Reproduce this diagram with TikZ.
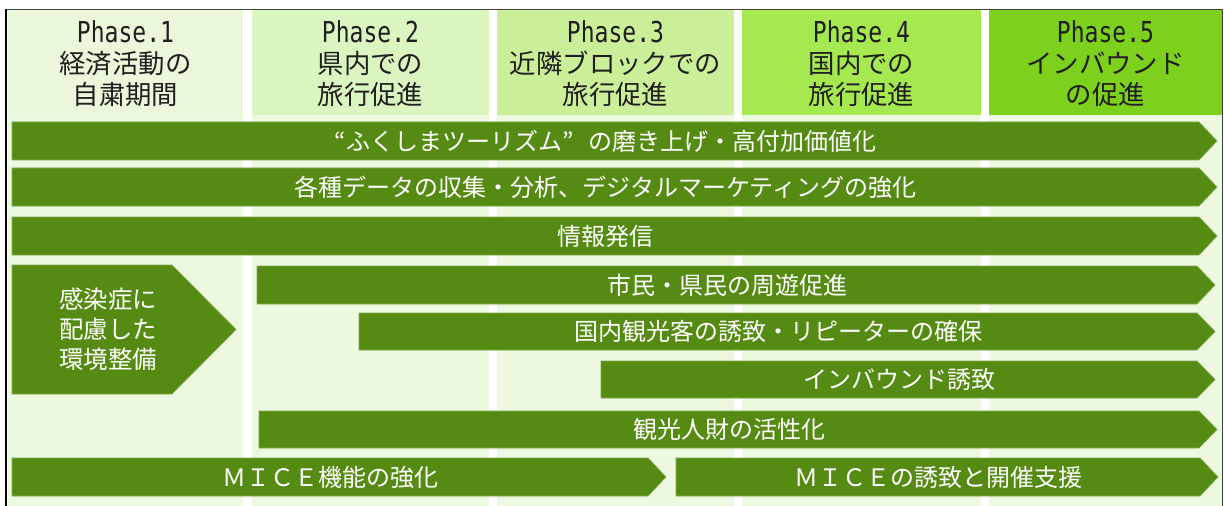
\documentclass[tikz,border=0pt]{standalone}
\usepackage{fontspec}
\setmainfont{Noto Sans CJK JP}
\newfontfamily\phasefont[FakeStretch=0.8]{DejaVu Sans Mono}
\definecolor{colbg}{HTML}{EDF8E0}
\definecolor{hone}{HTML}{EBF7DA}
\definecolor{htwo}{HTML}{DBF5C0}
\definecolor{hthree}{HTML}{CBEF99}
\definecolor{hfour}{HTML}{A6E850}
\definecolor{hfive}{HTML}{7DD11C}
\definecolor{barfill}{HTML}{558B13}
\definecolor{baredge}{HTML}{7FA84C}
\newcommand\mybar[6]{%
  \fill[barshape] (#2,#3) -- (#4,#3) -- ({#4+18},{(#3+#5)/2}) -- (#4,#5) -- (#2,#5) -- cycle;
  \node[bartext] (#1) at ({(#2+#4)/2},{(#3+#5)/2}) {#6};
}
\begin{document}
\begin{tikzpicture}[x=0.75pt,y=-0.75pt,
  barshape/.style={fill=barfill, draw=baredge, line width=0.5pt, line join=miter},
  bartext/.style={text=white, inner sep=0pt, font=\fontsize{18}{21}\selectfont},
  head/.style={align=center, inner sep=0pt, text=black!88, font=\fontsize{19.8}{23.25}\selectfont}]
\useasboundingbox (0,0) rectangle (1224,506);
\fill[white] (0,0) rectangle (1224,506);
% column backgrounds
\fill[colbg] (8,115) rectangle (243,506);
\fill[colbg] (252,115) rectangle (489,506);
\fill[colbg] (497,115) rectangle (734,506);
\fill[colbg] (742,115) rectangle (981,506);
\fill[colbg] (989,115) rectangle (1222,506);
% headers
\fill[hone] (8,10) rectangle (243,115);
\fill[htwo] (252,10) rectangle (489,115);
\fill[hthree] (497,10) rectangle (734,115);
\fill[hfour] (742,10) rectangle (981,115);
\fill[hfive] (989,10) rectangle (1222,115);
% frame
\draw[black, line width=1.5pt] (6,9) -- (6,506);
\draw[black!75, line width=0.75pt] (6,9.5) -- (1222.5,9.5) -- (1222.5,506);
% header texts
\node[head] (p1) at (125.5,64) {{\phasefont\fontsize{21.6}{23.25}\selectfont Phase.1}\\経済活動の\\自粛期間};
\node[head] (p2) at (370.5,64) {{\phasefont\fontsize{21.6}{23.25}\selectfont Phase.2}\\県内での\\旅行促進};
\node[head] (p3) at (615.5,64) {{\phasefont\fontsize{21.6}{23.25}\selectfont Phase.3}\\近隣ブロックでの\\旅行促進};
\node[head] (p4) at (861.5,64) {{\phasefont\fontsize{21.6}{23.25}\selectfont Phase.4}\\国内での\\旅行促進};
\node[head] (p5) at (1105.5,64) {{\phasefont\fontsize{21.6}{23.25}\selectfont Phase.5}\\インバウンド\\の促進};
% bars
\mybar{b1}{12}{122}{1199}{160}{“ふくしまツーリズム”\hspace{0.6em}の磨き上げ・高付加価値化}
\mybar{b2}{12}{168}{1199}{206}{各種データの収集・分析、デジタルマーケティングの強化}
\mybar{b3}{12}{217}{1199}{255}{情報発信}
\mybar{b4}{257}{266}{1197}{304}{市民・県民の周遊促進}
\mybar{b5}{359}{313}{1197}{350}{国内観光客の誘致・リピーターの確保}
\mybar{b6}{601}{361}{1197}{398}{インバウンド誘致}
\mybar{b7}{259}{411}{1199}{448}{観光人財の活性化}
\mybar{b8}{12}{458}{648}{496}{ＭＩＣＥ機能の強化}
\mybar{b9}{676}{458}{1200}{496}{ＭＩＣＥの誘致と開催支援}
% left pentagon
\fill[barshape] (12,265) -- (172,265) -- (236,329.5) -- (172,394) -- (12,394) -- cycle;
\node[bartext, align=left, anchor=west, font=\fontsize{18.3}{22.5}\selectfont] (env) at (59,329) {感染症に\\配慮した\\環境整備};
\end{tikzpicture}
\end{document}
